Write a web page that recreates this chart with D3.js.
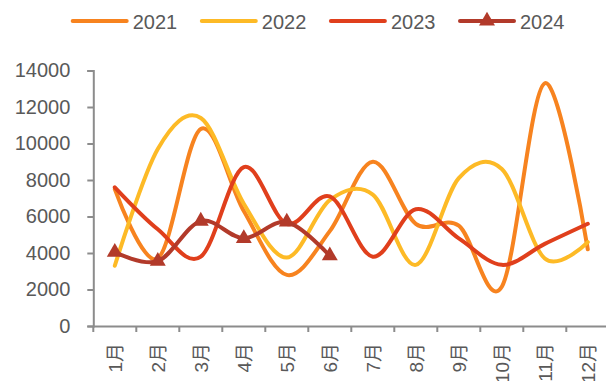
<!DOCTYPE html>
<html><head><meta charset="utf-8">
<script src="https://cdn.jsdelivr.net/npm/d3@7"></script>
<style>html,body{margin:0;padding:0;background:#fff;}svg{display:block;}</style>
</head><body><svg id="c" width="606" height="381"></svg>
<script>
const months = ["1月","2月","3月","4月","5月","6月","7月","8月","9月","10月","11月","12月"];
const yTicks = [0,2000,4000,6000,8000,10000,12000,14000];
const v2021 = [7500,3700,10800,6300,2800,5200,9000,5600,5500,2150,13300,4200];
const v2022 = [3300,9700,11400,6700,3750,6900,7200,3350,8100,8600,3700,4600];
const v2023 = [7600,5300,3800,8700,5600,7100,3800,6400,4800,3350,4500,5600];
const v2024 = [4050,3550,5750,4800,5700,3850];
const seriesNames = ["2021","2022","2023","2024"];
const seriesColors = ["#F7831F","#FDBA26","#E03F1C","#B23A2A"];

const series = [v2021,v2022,v2023,v2024].map((v,i)=>({name:seriesNames[i],color:seriesColors[i],values:v,marker:i===3}));

const svg = d3.select("#c");
const x = d3.scaleBand().domain(months).range([93.3, 609.3]);
const y = d3.scaleLinear().domain([0,14000]).range([326, 70.5]);
const font = "'Liberation Sans', Arial, 'Noto Sans CJK SC', sans-serif";
const txt = "#595959", axc = "#8C8C8C";

// Y axis
const ya = svg.append("g").attr("transform","translate(93.3,0)")
  .call(d3.axisLeft(y).tickValues(yTicks).tickSize(6).tickPadding(17).tickFormat(d3.format("d")));
ya.select(".domain").attr("stroke",axc).attr("stroke-width",2);
ya.selectAll(".tick line").attr("stroke",axc).attr("stroke-width",2);
ya.selectAll(".tick text").attr("fill",txt).style("font-family",font).style("font-size","20px");

// X axis
const xa = svg.append("g").attr("transform","translate(0,326)")
  .call(d3.axisBottom(x).tickSize(0).tickFormat(""));
xa.select(".domain").attr("stroke",axc).attr("stroke-width",2);
xa.selectAll(".tick").remove();
svg.append("g").selectAll("line").data(months.concat(["end"])).join("line")
  .attr("x1",(d,i)=>x.range()[0]+i*x.step()).attr("x2",(d,i)=>x.range()[0]+i*x.step())
  .attr("y1",326).attr("y2",332).attr("stroke",axc).attr("stroke-width",2);
svg.append("g").selectAll("text").data(months).join("text")
  .attr("transform",d=>`translate(${x(d)+x.bandwidth()/2},343) rotate(-90)`)
  .attr("text-anchor","end").attr("dy","0.36em")
  .attr("fill",txt).style("font-family",font).style("font-size","19px").text(d=>d);

// Lines
const line = d3.line().x((d,i)=>x(months[i])+x.bandwidth()/2).y(d=>y(d)).curve(d3.curveCardinal.tension(0));
const tri = d3.symbol().type(d3.symbolTriangle).size(110);
series.forEach(s=>{
  svg.append("path").attr("d",line(s.values)).attr("fill","none")
    .attr("stroke",s.color).attr("stroke-width",4).attr("stroke-linecap","round");
  if(s.marker){
    svg.append("g").selectAll("path").data(s.values).join("path")
      .attr("d",tri).attr("fill",s.color)
      .attr("transform",(d,i)=>`translate(${x(months[i])+x.bandwidth()/2},${y(d)})`);
  }
});

// Legend
const lg = svg.append("g");
series.forEach((s,i)=>{
  const x0 = 72.7 + i*129.1;
  lg.append("line").attr("x1",x0).attr("x2",x0+54).attr("y1",21).attr("y2",21)
    .attr("stroke",s.color).attr("stroke-width",4).attr("stroke-linecap","round");
  if(s.marker){
    lg.append("path").attr("d",tri).attr("fill",s.color).attr("transform",`translate(${x0+27},21)`);
  }
  lg.append("text").attr("x",x0+60).attr("y",29).attr("fill",txt)
    .style("font-family",font).style("font-size","20px").text(s.name);
});
</script></body></html>
